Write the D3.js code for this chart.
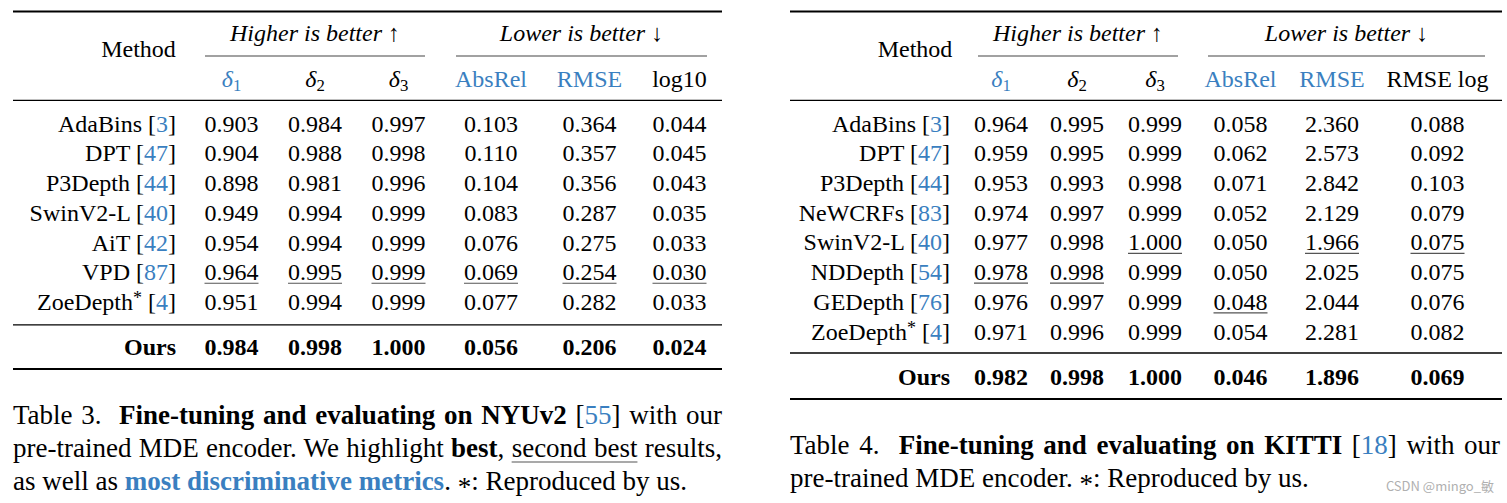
<!DOCTYPE html>
<html><head><meta charset="utf-8">
<script src="https://cdn.jsdelivr.net/npm/d3@7"></script>
<style>
html,body{margin:0;padding:0;background:#fff;}
svg{display:block;}
</style></head>
<body>
<svg id="c" width="1507" height="503"></svg>
<script>
// ---------- DATA ----------
const colKeys = ["d1", "d2", "d3", "absrel", "rmse", "log"];
const groupLabels = ["Higher is better ↑", "Lower is better ↓"];
const nyuHeaders = ["δ1", "δ2", "δ3", "AbsRel", "RMSE", "log10"];
const kittiHeaders = ["δ1", "δ2", "δ3", "AbsRel", "RMSE", "RMSE log"];
const highlightedCols = ["d1", "absrel", "rmse"];

const nyuMethods = ["AdaBins", "DPT", "P3Depth", "SwinV2-L", "AiT", "VPD", "ZoeDepth*"];
const nyuRefs = ["3", "47", "44", "40", "42", "87", "4"];
const nyuD1 = ["0.903", "0.904", "0.898", "0.949", "0.954", "0.964", "0.951"];
const nyuD2 = ["0.984", "0.988", "0.981", "0.994", "0.994", "0.995", "0.994"];
const nyuD3 = ["0.997", "0.998", "0.996", "0.999", "0.999", "0.999", "0.999"];
const nyuAbsRel = ["0.103", "0.110", "0.104", "0.083", "0.076", "0.069", "0.077"];
const nyuRMSE = ["0.364", "0.357", "0.356", "0.287", "0.275", "0.254", "0.282"];
const nyuLog10 = ["0.044", "0.045", "0.043", "0.035", "0.033", "0.030", "0.033"];
const nyuOurs = ["0.984", "0.998", "1.000", "0.056", "0.206", "0.024"];
const nyuSecond = [["VPD","d1"],["VPD","d2"],["VPD","d3"],["VPD","absrel"],["VPD","rmse"],["VPD","log"]];

const kittiMethods = ["AdaBins", "DPT", "P3Depth", "NeWCRFs", "SwinV2-L", "NDDepth", "GEDepth", "ZoeDepth*"];
const kittiRefs = ["3", "47", "44", "83", "40", "54", "76", "4"];
const kittiD1 = ["0.964", "0.959", "0.953", "0.974", "0.977", "0.978", "0.976", "0.971"];
const kittiD2 = ["0.995", "0.995", "0.993", "0.997", "0.998", "0.998", "0.997", "0.996"];
const kittiD3 = ["0.999", "0.999", "0.998", "0.999", "1.000", "0.999", "0.999", "0.999"];
const kittiAbsRel = ["0.058", "0.062", "0.071", "0.052", "0.050", "0.050", "0.048", "0.054"];
const kittiRMSE = ["2.360", "2.573", "2.842", "2.129", "1.966", "2.025", "2.044", "2.281"];
const kittiRMSElog = ["0.088", "0.092", "0.103", "0.079", "0.075", "0.075", "0.076", "0.082"];
const kittiOurs = ["0.982", "0.998", "1.000", "0.046", "1.896", "0.069"];
const kittiSecond = [["SwinV2-L","d3"],["SwinV2-L","rmse"],["SwinV2-L","log"],["NDDepth","d1"],["NDDepth","d2"],["GEDepth","absrel"]];

// ---------- STYLE ----------
const SERIF = "'Liberation Serif','Times New Roman',Times,serif";
const BLUE = "#3a7fc0";
const FS = 24;         // table font size
const CFS = 27;        // caption font size

const svg = d3.select("#c");

function drawTable(cfg) {
  const g = svg.append("g");
  const cols = [cfg.d1, cfg.d2, cfg.d3, cfg.absrel, cfg.rmse, cfg.log];
  const x = d3.scaleOrdinal().domain(colKeys).range(cfg.colX);
  const y = d3.scalePoint().domain(cfg.methods).range(cfg.rowRange);
  const rule = (x1, x2, yy, w, c) => g.append("line").attr("x1", x1).attr("x2", x2)
      .attr("y1", yy).attr("y2", yy).attr("stroke", c || "#000").attr("stroke-width", w);

  // rules
  rule(cfg.left, cfg.right, cfg.topRule, 2);
  rule(cfg.left, cfg.right, cfg.midRule, 1.3);
  rule(cfg.left, cfg.right, cfg.oursRule, 1.3);
  rule(cfg.left, cfg.right, cfg.bottomRule, 2);
  cfg.groupSpans.forEach((s, i) => {
    rule(s[0], s[1], cfg.cmid, 1.1, "#444");
    g.append("text").attr("x", (s[0] + s[1]) / 2).attr("y", cfg.groupY)
      .attr("text-anchor", "middle").attr("font-family", SERIF).attr("font-size", FS)
      .attr("font-style", "italic").text(groupLabels[i]);
  });

  // Method header
  g.append("text").attr("x", cfg.methodX).attr("y", cfg.methodY).attr("text-anchor", "middle")
    .attr("font-family", SERIF).attr("font-size", FS).text("Method");

  // column headers
  const hdr = g.selectAll("text.hdr").data(colKeys).join("text").attr("class", "hdr")
    .attr("x", d => x(d)).attr("y", cfg.subY).attr("text-anchor", "middle")
    .attr("font-family", SERIF).attr("font-size", FS)
    .attr("fill", d => highlightedCols.includes(d) ? BLUE : "#000");
  hdr.each(function(d, i) {
    const lab = cfg.headers[i];
    const t = d3.select(this);
    if (lab.startsWith("δ")) {
      t.append("tspan").attr("font-style", "italic").text("δ");
      t.append("tspan").attr("font-size", FS * 0.7).attr("dy", 4).text(lab.slice(1));
    } else t.text(lab);
  });

  // method names
  const mt = g.selectAll("text.m").data(cfg.methods).join("text").attr("class", "m")
    .attr("x", cfg.nameRight).attr("y", d => y(d) + 8).attr("text-anchor", "end")
    .attr("font-family", SERIF).attr("font-size", FS);
  mt.each(function(d, i) {
    const t = d3.select(this);
    if (d.endsWith("*")) {
      t.append("tspan").text(d.slice(0, -1));
      t.append("tspan").attr("font-size", FS * 0.75).attr("dy", -6).text("*");
      t.append("tspan").attr("dy", 6).text(" [");
    } else t.append("tspan").text(d + " [");
    t.append("tspan").attr("fill", BLUE).text(cfg.refs[i]);
    t.append("tspan").text("]");
  });

  // values
  const cells = [];
  cfg.methods.forEach((m, r) => colKeys.forEach((k, c) => cells.push({ m, k, v: cols[c][r] })));
  const ct = g.selectAll("text.v").data(cells).join("text").attr("class", "v")
    .attr("x", d => x(d.k)).attr("y", d => y(d.m) + 8).attr("text-anchor", "middle")
    .attr("font-family", SERIF).attr("font-size", FS).text(d => d.v);
  ct.each(function(d) {
    if (cfg.second.some(s => s[0] === d.m && s[1] === d.k)) {
      const w = this.getComputedTextLength();
      g.append("line").attr("x1", x(d.k) - w / 2).attr("x2", x(d.k) + w / 2)
        .attr("y1", y(d.m) + 11).attr("y2", y(d.m) + 11)
        .attr("stroke", "#555").attr("stroke-width", 1.2);
    }
  });

  // Ours row
  g.append("text").attr("x", cfg.nameRight).attr("y", cfg.oursY + 8).attr("text-anchor", "end")
    .attr("font-family", SERIF).attr("font-size", FS).attr("font-weight", "bold").text("Ours");
  g.selectAll("text.o").data(colKeys).join("text").attr("class", "o")
    .attr("x", d => x(d)).attr("y", cfg.oursY + 8).attr("text-anchor", "middle")
    .attr("font-family", SERIF).attr("font-size", FS).attr("font-weight", "bold")
    .text((d, i) => cfg.ours[i]);
}

drawTable({
  methods: nyuMethods, refs: nyuRefs, headers: nyuHeaders,
  d1: nyuD1, d2: nyuD2, d3: nyuD3, absrel: nyuAbsRel, rmse: nyuRMSE, log: nyuLog10,
  ours: nyuOurs, second: nyuSecond,
  left: 13, right: 722, topRule: 11.5, midRule: 100.3, oursRule: 324.8, bottomRule: 369,
  cmid: 56, groupSpans: [[205, 425], [456, 707]], groupY: 41,
  methodX: 138.5, methodY: 56.5, subY: 86.5, nameRight: 176,
  colX: [231.5, 315, 398.5, 491, 589.5, 679.5], rowRange: [123.5, 302], oursY: 346.5
});

drawTable({
  methods: kittiMethods, refs: kittiRefs, headers: kittiHeaders,
  d1: kittiD1, d2: kittiD2, d3: kittiD3, absrel: kittiAbsRel, rmse: kittiRMSE, log: kittiRMSElog,
  ours: kittiOurs, second: kittiSecond,
  left: 790, right: 1502, topRule: 11.5, midRule: 100.3, oursRule: 353, bottomRule: 399,
  cmid: 56, groupSpans: [[978, 1178], [1208, 1485]], groupY: 41,
  methodX: 915, methodY: 56.5, subY: 86.5, nameRight: 950,
  colX: [1001, 1077, 1155, 1240.5, 1332, 1437.5], rowRange: [123.5, 331.5], oursY: 376.5
});

// ---------- CAPTIONS ----------
function captionLine(x0, yy, parts, justifyTo) {
  const t = svg.append("text").attr("x", x0).attr("y", yy)
    .attr("font-family", SERIF).attr("font-size", CFS).attr("xml:space", "preserve");
  const spans = parts.map(p => {
    const s = t.append("tspan").text(p.t);
    if (p.b) s.attr("font-weight", "bold");
    if (p.c) s.attr("fill", BLUE);
    if (p.ast) s.attr("dy", 6);
    if (p.after) s.attr("dy", -6);
    return { s, p };
  });
  if (justifyTo) {
    const nat = t.node().getComputedTextLength();
    const full = parts.map(p => p.t).join("");
    const nSpaces = (full.trim().match(/ /g) || []).length;
    t.attr("word-spacing", (justifyTo - x0 - nat) / nSpaces);
  }
  spans.forEach(({ s, p }) => {
    if (p.u) {
      const n = s.node();
      const len = p.t.length;
      const a = n.getStartPositionOfChar(0).x;
      const b = n.getEndPositionOfChar(len - 1).x;
      svg.append("line").attr("x1", a).attr("x2", b).attr("y1", yy + 5).attr("y2", yy + 5)
        .attr("stroke", "#555").attr("stroke-width", 1.2);
    }
  });
}

captionLine(13, 424, [{ t: "Table 3.  " }, { t: "Fine-tuning and evaluating on NYUv2", b: 1 },
  { t: " [" }, { t: "55", c: 1 }, { t: "] with our" }], 722);
captionLine(13, 457, [{ t: "pre-trained MDE encoder. We highlight " }, { t: "best", b: 1 }, { t: ", " },
  { t: "second best", u: 1 }, { t: " results," }], 722);
captionLine(13, 490, [{ t: "as well as " }, { t: "most discriminative metrics", b: 1, c: 1 },
  { t: ". " }, { t: "*", ast: 1 }, { t: ": Reproduced by us.", after: 1 }]);

captionLine(790, 454, [{ t: "Table 4.  " }, { t: "Fine-tuning and evaluating on KITTI", b: 1 },
  { t: " [" }, { t: "18", c: 1 }, { t: "] with our" }], 1500);
captionLine(790, 487, [{ t: "pre-trained MDE encoder. " }, { t: "*", ast: 1 },
  { t: ": Reproduced by us.", after: 1 }]);

// watermark
svg.append("text").attr("x", 1494).attr("y", 491).attr("text-anchor", "end")
  .attr("font-family", "'Noto Sans CJK SC','Noto Sans',sans-serif").attr("font-size", 13)
  .attr("fill", "#b0b0b0").text("CSDN @mingo_敏");
</script>
</body></html>
